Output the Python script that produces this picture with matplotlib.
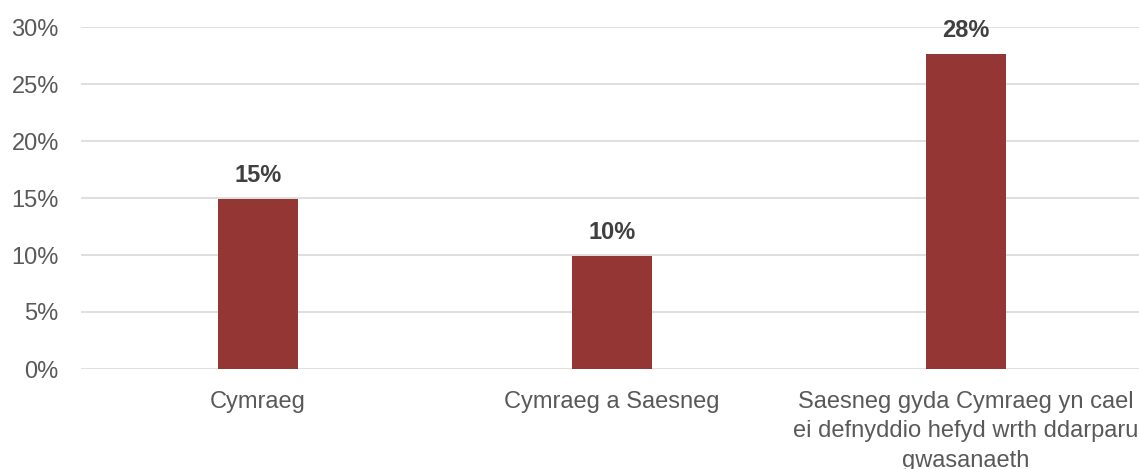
import matplotlib.pyplot as plt
import numpy as np

categories = [
    "Cymraeg",
    "Cymraeg a Saesneg",
    "Saesneg gyda Cymraeg yn cael\nei defnyddio hefyd wrth ddarparu\ngwasanaeth",
]
values = [14.9, 9.9, 27.6]
value_labels = ["15%", "10%", "28%"]
y_ticks = [0, 5, 10, 15, 20, 25, 30]

plt.rcParams["font.family"] = ["Liberation Sans", "DejaVu Sans"]

figure = plt.figure(figsize=(11.39, 4.69), dpi=100)
axis = figure.add_axes([81 / 1139, 1 - 369 / 469, 1062 / 1139, (369 - 27) / 469])

positions = np.arange(len(categories))
bars = axis.bar(positions, values, width=0.226, color="#943634", zorder=3)

for bar, label in zip(bars, value_labels):
    axis.annotate(
        label,
        (bar.get_x() + bar.get_width() / 2, bar.get_height()),
        xytext=(0, 9),
        textcoords="offset points",
        ha="center",
        va="bottom",
        fontsize=17,
        fontweight="bold",
        color="#404040",
    )

axis.set_xlim(-0.5, len(categories) - 0.5)
axis.set_ylim(0, 30)
axis.set_yticks(y_ticks)
axis.set_yticklabels([f"{t}%" for t in y_ticks])
axis.set_xticks(positions)
axis.set_xticklabels(categories, linespacing=1.42)

axis.grid(axis="y", color="#d9d9d9", linewidth=1.2, zorder=0)
axis.tick_params(axis="both", length=0, labelsize=17, labelcolor="#595959")
axis.tick_params(axis="y", pad=16)
axis.tick_params(axis="x", pad=16)
for spine in axis.spines.values():
    spine.set_visible(False)

figure.savefig("out.png", dpi=100)
